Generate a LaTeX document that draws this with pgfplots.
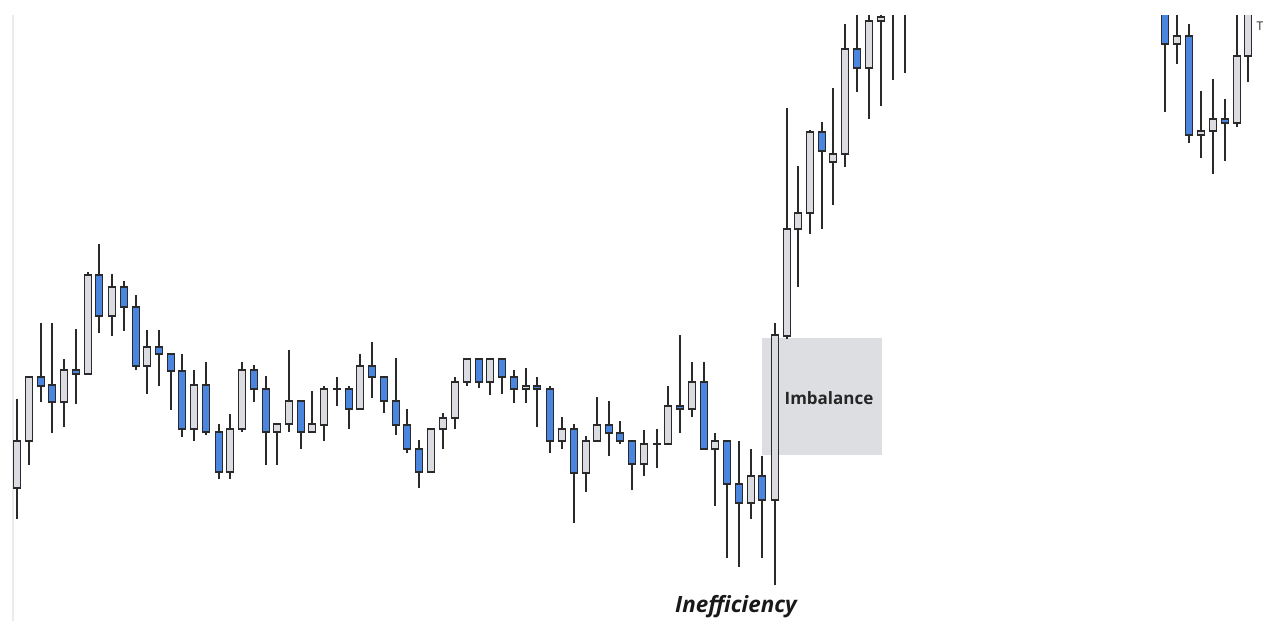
\documentclass[border=0pt]{standalone}
\usepackage{fontspec}
\setmainfont{Open Sans}
\usepackage{pgfplots}
\usepackage{pgfplotstable}
\pgfplotsset{compat=1.18}

\definecolor{cblue}{HTML}{4A86DF}
\definecolor{cgray}{HTML}{DBDCE1}
\definecolor{cedge}{HTML}{2A2A2A}
\definecolor{boxgray}{HTML}{DDDEE2}

% bullish (grey) candles: x open high low close
\pgfplotstableread{
x open high low close
17 133 222 102 180
29 180 245 156 244
64 219 262 194 251
88 247 349 247 346
112 305 347 285 334
147 255 291 227 274
194 192 251 180 236
230 149 207 142 192
242 192 259 189 251
277 189 197 156 197
289 197 271 189 220
312 189 230 189 197
324 196 235 180 232
337 232 244 215 232
360 212 267 212 255
431 149 192 149 192
443 192 208 172 203
455 203 244 192 239
467 239 262 235 262
490 239 262 226 262
526 232 253 218 235
562 180 204 172 192
586 148 185 129 180
597 180 224 180 196
644 157 191 145 177
657 177 192 153 177
668 177 235 177 215
692 212 259 204 239
715 172 188 115 180
751 118 172 102 145
775 121 298 36 286
787 285 513 282 392
798 392 455 334 408
810 408 491 387 489
833 459 533 416 467
845 467 597 454 572
869 553 630 502 600
881 600 640 515 604
893 612 650 541 640
905 615 660 548 645
1177 577 612 557 585
1201 486 530 463 490
1213 490 542 447 502
1237 498 612 494 565
1248 565 630 539 625
}\up

% bearish (blue) candles: x open high low close
\pgfplotstableread{
x open high low close
41 244 298 219 235
52 236 298 188 219
76 251 292 217 247
99 346 377 288 305
124 334 340 290 314
136 314 326 251 255
159 274 291 235 267
171 267 267 211 250
182 250 267 184 192
206 236 259 186 189
219 189 197 142 149
254 251 256 219 232
266 232 245 156 189
301 220 220 172 189
349 232 235 192 212
372 255 279 223 244
384 244 244 208 220
396 220 263 186 196
407 196 212 168 172
419 172 181 133 149
479 262 262 233 239
502 262 262 227 244
514 244 251 218 232
537 235 244 194 232
550 232 235 168 180
574 192 197 98 148
609 196 220 165 188
620 188 200 177 180
632 180 180 131 157
680 215 286 188 212
704 239 259 172 172
727 180 180 63 137
739 137 180 54 118
762 145 165 63 121
822 489 499 392 470
857 572 630 529 553
1165 630 640 509 577
1189 585 597 478 486
1225 502 522 460 498
}\down

\pgfplotsset{
  eb/.style 2 args={only marks, mark size=0pt,
    mark options={draw=none, fill=none}, forget plot,
    error bars/.cd, y dir=plus, y explicit, error mark=none,
    error bar style={line width=#1, draw=#2}},
}

\begin{document}
\begin{tikzpicture}
\begin{axis}[
  scale only axis,
  width=633pt, height=302.5pt,
  xmin=0, xmax=1266, ymin=0, ymax=605,
  hide axis,
  clip=true,
]
% imbalance zone
\fill[boxgray] (axis cs:762,166) rectangle (axis cs:882,283);
% panel left edge
\draw[black!8, line width=0.6pt] (axis cs:13,0) -- (axis cs:13,610);

% wicks
\addplot[eb={0.55pt}{cedge}] table[x=x, y=low,
  y error plus expr=\thisrow{high}-\thisrow{low}] {\up};
\addplot[eb={0.55pt}{cedge}] table[x=x, y=low,
  y error plus expr=\thisrow{high}-\thisrow{low}] {\down};
% body outlines
\addplot[eb={3.6pt}{cedge}] table[x=x, y expr=\thisrow{open}-0.6,
  y error plus expr=\thisrow{close}-\thisrow{open}+1.2] {\up};
\addplot[eb={3.6pt}{cedge}] table[x=x, y expr=\thisrow{close}-0.6,
  y error plus expr=\thisrow{open}-\thisrow{close}+1.2] {\down};
% body fills
\addplot[eb={2.6pt}{cgray}] table[x=x, y expr=\thisrow{open}+0.6,
  y error plus expr={max(\thisrow{close}-\thisrow{open}-1.2,0)}] {\up};
\addplot[eb={2.6pt}{cblue}] table[x=x, y expr=\thisrow{close}+0.6,
  y error plus expr={max(\thisrow{open}-\thisrow{close}-1.2,0)}] {\down};

\node[text=black!85, font=\fontsize{8.5}{10}\selectfont\bfseries] at (axis cs:829,223) {Imbalance};
\node[text=black!90, font=\fontsize{11.2}{13}\selectfont\bfseries\itshape] at (axis cs:736,14) {Inefficiency};
\node[text=black!85, font=\fontsize{6}{7}\selectfont, anchor=north] at (axis cs:1260,606) {T};
\end{axis}
\pgfresetboundingbox
\path (current axis.south west) rectangle ([yshift=8pt]current axis.north east);
\end{tikzpicture}
\end{document}
